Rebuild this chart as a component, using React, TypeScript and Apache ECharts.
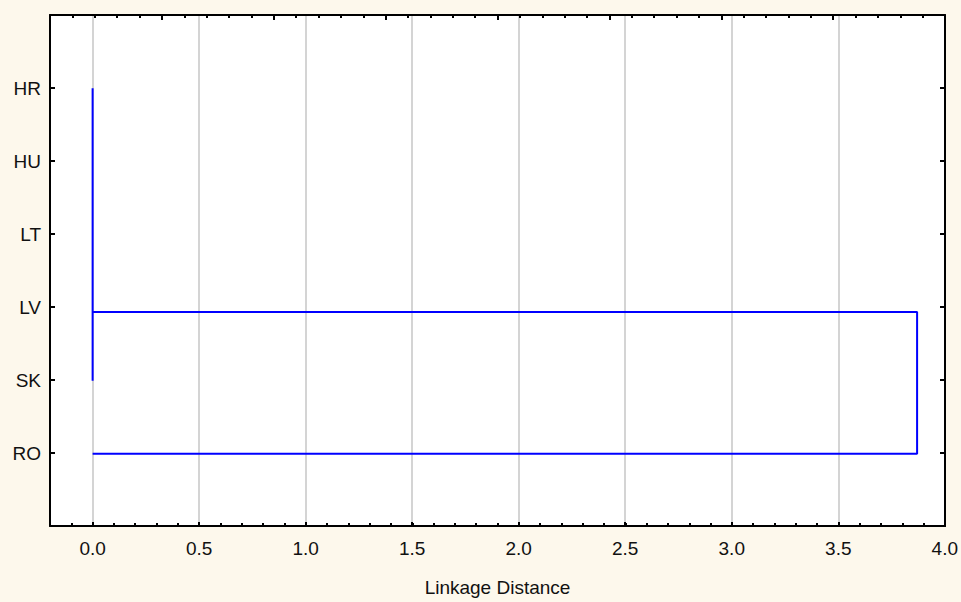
import React, { useEffect, useRef } from "react";
import * as echarts from "echarts";

// ---- data ----
const leaves = ["HR", "HU", "LT", "LV", "SK", "RO"];
const clusterMembers = ["HR", "HU", "LT", "LV", "SK"];
const clusterJoinDistance = 0.0;
const clusterStemPosition = 4.06; // vertical position of the merged cluster's stem (leaf units)
const finalJoinDistance = 3.87;
const outlierLeaf = "RO";
const xTickLabels = ["0.0", "0.5", "1.0", "1.5", "2.0", "2.5", "3.0", "3.5", "4.0"];
const axisTitle = "Linkage Distance";

const X_MIN = -0.2;
const X_MAX = 4.0;

export default function App() {
  const ref = useRef<HTMLDivElement>(null);

  useEffect(() => {
    document.body.style.margin = "0";
    if (!ref.current) return;
    const chart = echarts.init(ref.current, undefined, { renderer: "svg" });

    const W = 961;
    const gLeft = 50;
    const gRight = 16;
    const gTop = 15;
    const gBottom = 75;
    const gWidth = W - gLeft - gRight;
    const dataLeft = gLeft + ((0 - X_MIN) / (X_MAX - X_MIN)) * gWidth;

    const pos = (name: string) => leaves.indexOf(name) + 1;

    const clusterLine = [
      [clusterJoinDistance, pos(clusterMembers[0])],
      [clusterJoinDistance, pos(clusterMembers[clusterMembers.length - 1])],
    ];
    const joinLine = [
      [clusterJoinDistance, clusterStemPosition],
      [finalJoinDistance, clusterStemPosition],
      [finalJoinDistance, pos(outlierLeaf)],
      [0, pos(outlierLeaf)],
    ];

    const font = "Liberation Sans, Arial, sans-serif";
    const black = "#000";
    const frameLine = { show: true, onZero: false, lineStyle: { color: black, width: 2 } };
    const baseY = {
      type: "value" as const,
      min: 0,
      max: leaves.length + 1,
      interval: 1,
      inverse: true,
    };

    chart.setOption({
      animation: false,
      backgroundColor: "#fdf8ec",
      grid: [
        {
          left: gLeft,
          right: gRight,
          top: gTop,
          bottom: gBottom,
          show: true,
          backgroundColor: "#ffffff",
          borderWidth: 0,
        },
        {
          left: dataLeft,
          right: gRight,
          top: gTop,
          bottom: gBottom,
        },
      ],
      xAxis: [
        {
          gridIndex: 0,
          type: "value",
          position: "bottom",
          min: X_MIN,
          max: X_MAX,
          interval: 0.1,
          axisLine: frameLine,
          axisTick: { show: true, inside: true, length: 3, lineStyle: { color: black, width: 2 } },
          axisLabel: { show: false },
          splitLine: { show: false },
          name: axisTitle,
          nameLocation: "middle",
          nameGap: 52,
          nameTextStyle: { fontFamily: font, fontSize: 19, color: "#111" },
        },
        {
          gridIndex: 0,
          type: "value",
          position: "top",
          min: 0,
          max: 40,
          interval: 5,
          axisLine: frameLine,
          axisTick: { show: true, inside: true, length: 5, lineStyle: { color: black, width: 2 } },
          minorTick: { show: true, splitNumber: 5, length: 3, lineStyle: { color: black, width: 2 } },
          axisLabel: { show: false },
          splitLine: { show: false },
          minorSplitLine: { show: false },
        },
        {
          gridIndex: 1,
          type: "value",
          position: "bottom",
          min: 0,
          max: X_MAX,
          interval: 0.5,
          axisLine: { show: false, onZero: false },
          axisTick: { show: true, inside: true, length: 5, lineStyle: { color: black, width: 2 } },
          axisLabel: {
            show: true,
            margin: 12,
            fontFamily: font,
            fontSize: 19,
            color: "#111",
            formatter: (v: number) => {
              const i = Math.round(v / 0.5);
              return xTickLabels[i] ?? "";
            },
          },
          splitLine: { show: true, lineStyle: { color: "#d4d4d4", width: 2 } },
        },
      ],
      yAxis: [
        {
          ...baseY,
          gridIndex: 0,
          position: "left",
          axisLine: frameLine,
          axisTick: { show: true, inside: true, length: 5, lineStyle: { color: black, width: 2 } },
          axisLabel: {
            show: true,
            margin: 9,
            fontFamily: font,
            fontSize: 19,
            color: "#111",
            formatter: (v: number) => leaves[Math.round(v) - 1] ?? "",
          },
          splitLine: { show: false },
        },
        {
          ...baseY,
          gridIndex: 0,
          position: "right",
          axisLine: frameLine,
          axisTick: { show: true, inside: true, length: 5, lineStyle: { color: black, width: 2 } },
          axisLabel: { show: false },
          splitLine: { show: false },
        },
        {
          ...baseY,
          gridIndex: 1,
          show: false,
          axisLine: { show: false, onZero: false },
          splitLine: { show: false },
        },
      ],
      series: [
        {
          type: "line",
          xAxisIndex: 2,
          yAxisIndex: 2,
          data: clusterLine,
          symbol: "none",
          silent: true,
          lineStyle: { color: "#0000ff", width: 2 },
          z: 5,
        },
        {
          type: "line",
          xAxisIndex: 2,
          yAxisIndex: 2,
          data: joinLine,
          symbol: "none",
          silent: true,
          lineStyle: { color: "#0000ff", width: 2 },
          z: 5,
        },
      ],
    });

    return () => chart.dispose();
  }, []);

  return <div ref={ref} style={{ width: 961, height: 602 }} />;
}
